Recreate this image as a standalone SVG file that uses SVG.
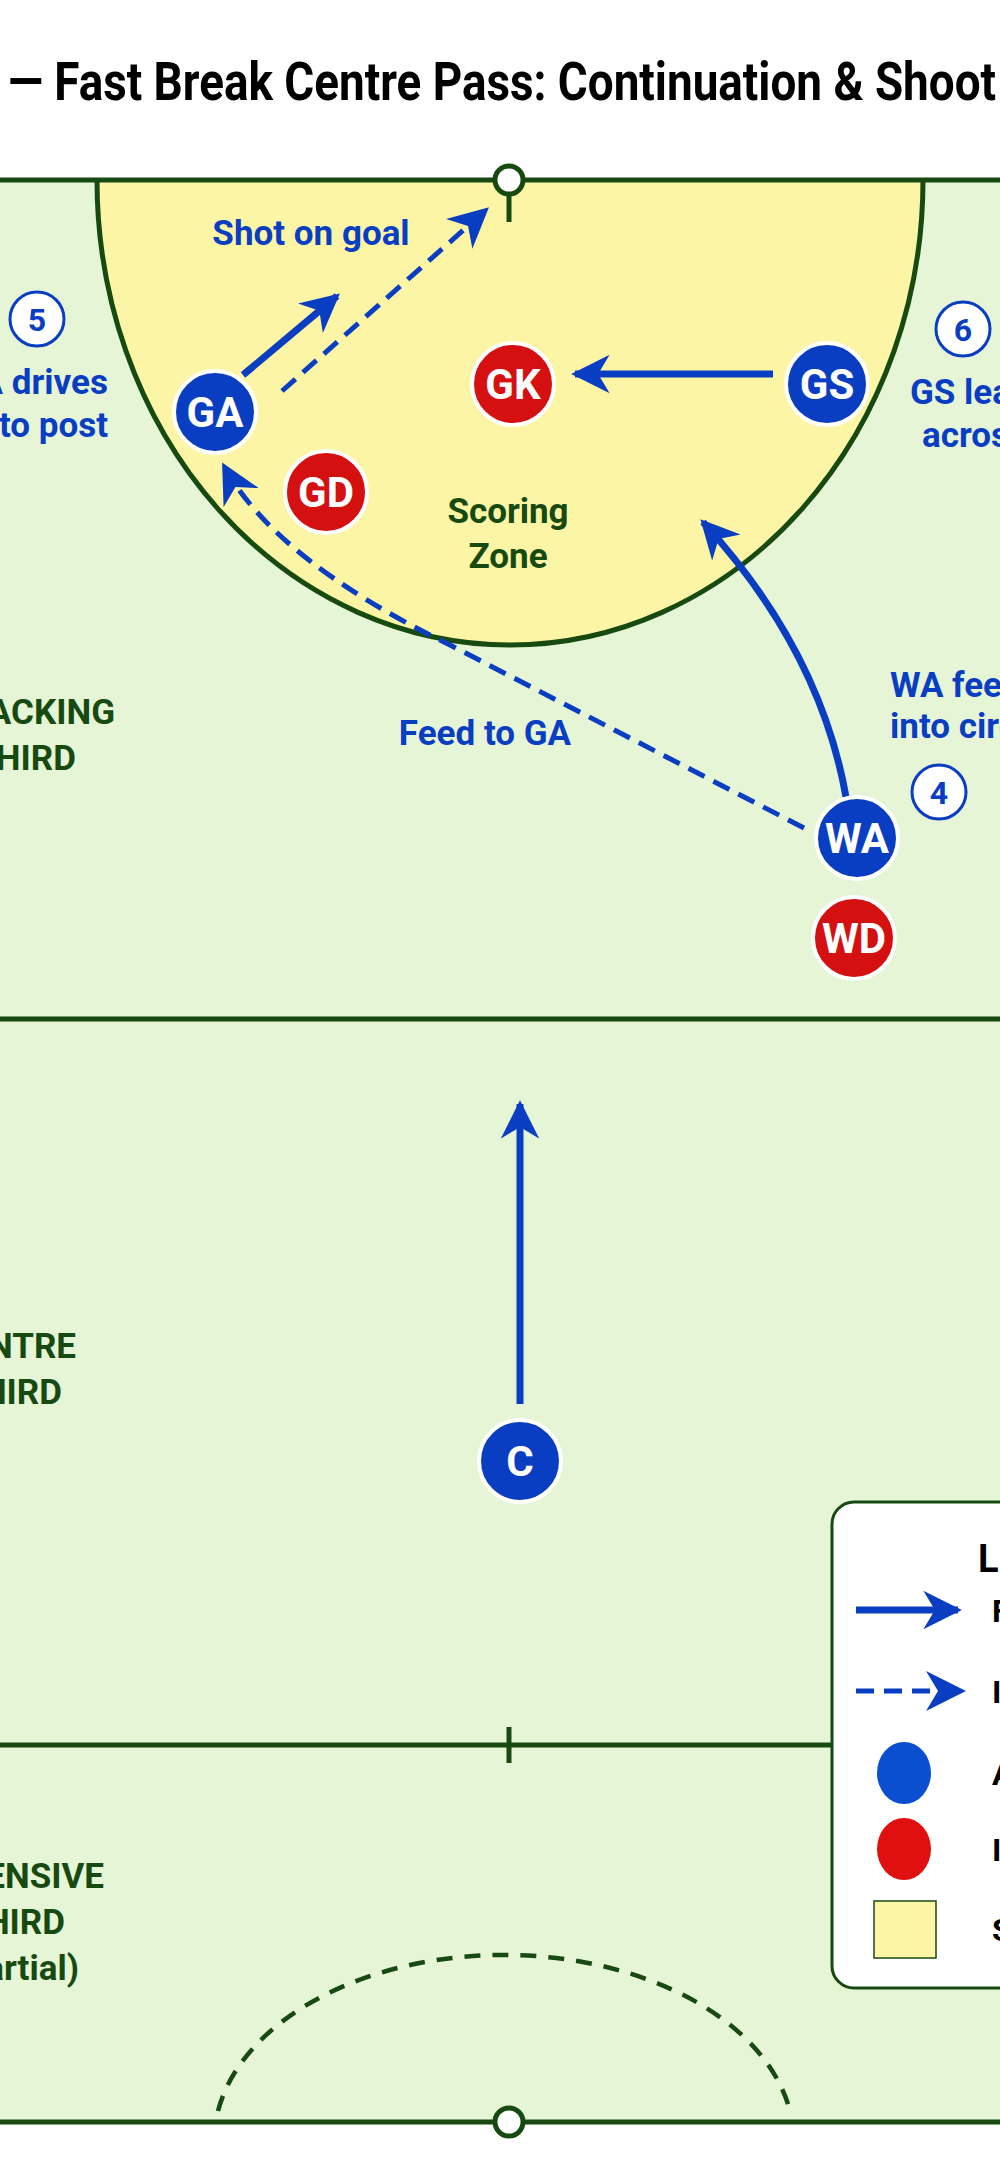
<svg xmlns="http://www.w3.org/2000/svg" width="1000" height="2176" viewBox="0 0 1000 2176">
<style>
text{font-family:"Liberation Sans Narrow","Roboto","Liberation Sans",sans-serif;font-weight:bold}
.ln{stroke:#174a10;stroke-width:5;fill:none}
.pl{font-size:42px;fill:#fff;text-anchor:middle}
.bl{fill:#0a3ec2}
.rd{fill:#d51010}
.pc{stroke:#fff;stroke-width:4}
.lb{font-size:35px;fill:#0a3ec2}
.zn{font-size:35px;fill:#174a10}
.ar{stroke:#0a3ec2;stroke-width:7;fill:none}
.da{stroke:#0a3ec2;stroke-width:5;fill:none;stroke-dasharray:18 10}
.num{fill:#fff;stroke:#0a3ec2;stroke-width:3}
.nt{font-size:32px;fill:#0a3ec2;text-anchor:middle}
</style>
<defs>
<marker id="ah" viewBox="0 0 10 10" refX="9" refY="5" markerWidth="5.5" markerHeight="5.5" markerUnits="strokeWidth" orient="auto"><path d="M0 0 L10 5 L0 10 L3 5 Z" fill="#0a3ec2"/></marker>
<marker id="ahd" viewBox="0 0 10 10" refX="9" refY="5" markerWidth="8" markerHeight="8" markerUnits="strokeWidth" orient="auto"><path d="M0 0 L10 5 L0 10 L3 5 Z" fill="#0a3ec2"/></marker>
</defs>
<rect width="1000" height="2176" fill="#fff"/>
<text x="8" y="100" font-size="54" textLength="988" lengthAdjust="spacingAndGlyphs" fill="#000">— Fast Break Centre Pass: Continuation &amp; Shoot</text>
<g id="court">
<rect x="-10" y="180" width="1020" height="1942" fill="#e6f5d6"/>
<path d="M97 180 A413 465 0 0 0 923 180 Z" fill="#fdf5a6"/>
<path class="ln" d="M97 180 A413 465 0 0 0 923 180"/>
<line class="ln" x1="-10" y1="180" x2="1010" y2="180"/>
<line class="ln" x1="-10" y1="1019" x2="1010" y2="1019"/>
<line class="ln" x1="-10" y1="1745" x2="1010" y2="1745"/>
<line class="ln" x1="509" y1="1727" x2="509" y2="1763"/>
<line class="ln" x1="-10" y1="2122" x2="1010" y2="2122"/>
<line class="ln" x1="509" y1="180" x2="509" y2="222"/>
<circle cx="509" cy="180" r="14" fill="#fff" stroke="#174a10" stroke-width="5"/>
<path d="M218 2111 A290 187 0 0 1 790 2111" fill="none" stroke="#174a10" stroke-width="4.5" stroke-dasharray="16 12"/>
<circle cx="509" cy="2122" r="14" fill="#fff" stroke="#174a10" stroke-width="5"/>
<text class="zn" x="508" y="523" text-anchor="middle">Scoring</text>
<text class="zn" x="508" y="568" text-anchor="middle">Zone</text>
<text class="zn" x="115" y="724" text-anchor="end">ACKING</text>
<text class="zn" x="76" y="770" text-anchor="end">THIRD</text>
<text class="zn" x="76" y="1358" text-anchor="end">NTRE</text>
<text class="zn" x="62" y="1404" text-anchor="end">HIRD</text>
<text class="zn" x="104" y="1888" text-anchor="end">ENSIVE</text>
<text class="zn" x="65" y="1934" text-anchor="end">HIRD</text>
<text class="zn" x="79" y="1980" text-anchor="end">artial)</text>
</g>
<g id="connectors">
<line class="ar" x1="243" y1="375" x2="337" y2="296" marker-end="url(#ah)"/>
<line class="da" x1="282" y1="391" x2="486" y2="210" marker-end="url(#ahd)"/>
<line class="ar" x1="773" y1="374" x2="575" y2="374" marker-end="url(#ah)"/>
<path class="ar" d="M846 797 Q820 650 703 522" marker-end="url(#ah)"/>
<path class="da" d="M804 828 L450 645 Q275 560 224 466" marker-end="url(#ahd)"/>
<line class="ar" x1="520" y1="1404" x2="520" y2="1104" marker-end="url(#ah)"/>
<text class="lb" x="311" y="245" text-anchor="middle">Shot on goal</text>
<text class="lb" x="485" y="745" text-anchor="middle">Feed to GA</text>
<text class="lb" x="108" y="394" text-anchor="end">A drives</text>
<text class="lb" x="108" y="437" text-anchor="end">to post</text>
<text class="lb" x="910" y="404">GS lead</text>
<text class="lb" x="922" y="447">across</text>
<text class="lb" x="890" y="697">WA feed</text>
<text class="lb" x="890" y="738">into circ</text>
<circle class="num" cx="37" cy="319" r="27"/><text class="nt" x="37" y="331">5</text>
<circle class="num" cx="963" cy="329" r="27"/><text class="nt" x="963" y="341">6</text>
<circle class="num" cx="939" cy="792" r="27"/><text class="nt" x="939" y="804">4</text>
</g>
<g id="GA"><circle class="bl pc" cx="215" cy="412" r="41"/><text class="pl" x="215" y="427">GA</text></g>
<g id="GK"><circle class="rd pc" cx="513" cy="384" r="41"/><text class="pl" x="513" y="399">GK</text></g>
<g id="GS"><circle class="bl pc" cx="827" cy="384" r="41"/><text class="pl" x="827" y="399">GS</text></g>
<g id="GD"><circle class="rd pc" cx="326" cy="492" r="41"/><text class="pl" x="326" y="507">GD</text></g>
<g id="WA"><circle class="bl pc" cx="857" cy="838" r="41"/><text class="pl" x="857" y="853">WA</text></g>
<g id="WD"><circle class="rd pc" cx="854" cy="938" r="41"/><text class="pl" x="854" y="953">WD</text></g>
<g id="C"><circle class="bl pc" cx="520" cy="1461" r="41"/><text class="pl" x="520" y="1476">C</text></g>
<g id="legend">
<rect x="832" y="1502" width="220" height="486" rx="22" fill="#fff" stroke="#174a10" stroke-width="3"/>
<text x="978" y="1572" font-size="38" fill="#000">L</text>
<line class="ar" x1="856" y1="1610" x2="958" y2="1610" marker-end="url(#ah)"/>
<line class="da" x1="856" y1="1691" x2="962" y2="1691" marker-end="url(#ahd)"/>
<ellipse cx="904" cy="1773" rx="27" ry="31" fill="#0a4fd0"/>
<ellipse cx="904" cy="1849" rx="27" ry="31" fill="#e01010"/>
<rect x="874" y="1901" width="62" height="57" fill="#fdf5a6" stroke="#174a10" stroke-width="1.5"/>
<text x="992" y="1622" font-size="32" fill="#000">F</text>
<text x="992" y="1703" font-size="32" fill="#000">I</text>
<text x="992" y="1785" font-size="32" fill="#000">A</text>
<text x="992" y="1861" font-size="32" fill="#000">I</text>
<text x="992" y="1941" font-size="32" fill="#000">S</text>
</g>
</svg>
